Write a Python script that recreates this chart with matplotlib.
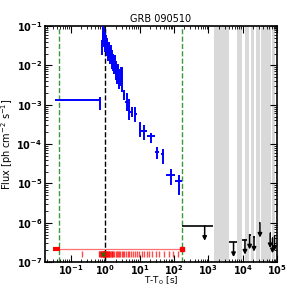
"""GRB 090510 light curve: LAT flux vs time since trigger."""

import numpy as np
import matplotlib
matplotlib.use("Agg")
import matplotlib.pyplot as plt
from matplotlib.ticker import FuncFormatter, FixedLocator, NullFormatter

# detected bins: time bin edges [s], flux and its error band [ph cm^-2 s^-1]
det_tlo = [0.035, 0.78, 0.82, 0.86, 0.90, 0.94, 0.98, 1.03, 1.08, 1.13, 1.19, 1.26,
           1.33, 1.42, 1.51, 1.61, 1.71, 1.83, 1.95, 2.08, 2.26, 2.48, 2.72, 2.98,
           3.3, 3.9, 4.6, 5.4, 7.0, 9.6, 11.4, 17.0, 28.0, 43.0, 60.0, 111.0]
det_thi = [0.70, 0.82, 0.86, 0.90, 0.94, 0.98, 1.03, 1.08, 1.13, 1.19, 1.26, 1.33,
           1.42, 1.51, 1.61, 1.71, 1.83, 1.95, 2.08, 2.26, 2.48, 2.72, 2.98, 3.3,
           3.9, 4.6, 5.4, 6.4, 8.2, 10.8, 16.6, 28.0, 37.0, 53.0, 109.0, 177.0]
det_t = [0.70, 0.80, 0.84, 0.88, 0.92, 0.96, 1.00, 1.05, 1.10, 1.16, 1.22, 1.29,
         1.37, 1.46, 1.55, 1.65, 1.76, 1.88, 2.00, 2.15, 2.35, 2.60, 2.85, 3.10,
         3.6, 4.3, 5.0, 5.9, 7.6, 10.2, 13.6, 22.0, 32.0, 48.0, 81.0, 141.0]
det_f = [1.3e-3, 0.030, 0.050, 0.070, 0.060, 0.045, 0.035, 0.040, 0.028, 0.032, 0.022, 0.025,
         0.018, 0.020, 0.014, 0.012, 0.010, 0.011, 7.5e-3, 6.0e-3, 6.5e-3, 4.5e-3, 5.5e-3, 4.5e-3,
         1.8e-3, 1.2e-3, 7.5e-4, 6.5e-4, 5.8e-4, 2.4e-4, 2.2e-4, 1.6e-4, 6.3e-5, 5.5e-5, 1.6e-5, 1.15e-5]
det_fhi = [1.6e-3, 0.045, 0.075, 0.11, 0.09, 0.07, 0.055, 0.06, 0.045, 0.05, 0.035, 0.04,
           0.03, 0.032, 0.024, 0.02, 0.017, 0.018, 0.013, 0.010, 0.011, 8.0e-3, 9.0e-3, 9.0e-3,
           2.4e-3, 2.0e-3, 1.4e-3, 8.7e-4, 8.9e-4, 3.6e-4, 3.0e-4, 1.9e-4, 8.5e-5, 7.4e-5, 2.3e-5, 1.6e-5]
det_flo = [7.2e-4, 0.018, 0.030, 0.045, 0.040, 0.028, 0.022, 0.025, 0.017, 0.020, 0.013, 0.015,
           0.011, 0.012, 8.0e-3, 7.0e-3, 6.0e-3, 6.5e-3, 4.2e-3, 3.3e-3, 3.5e-3, 2.5e-3, 3.0e-3, 2.1e-3,
           1.3e-3, 7.0e-4, 4.0e-4, 4.9e-4, 3.7e-4, 1.5e-4, 1.3e-4, 1.05e-4, 4.1e-5, 3.1e-5, 8.9e-6, 5.0e-6]

# upper limits: bin edges and flux limit
ul_tlo = [174.0, 4000.0, 9900.0, 15000.0, 20500.0, 31000.0, 62000.0, 72000.0, 83000.0]
ul_thi = [1400.0, 6900.0, 13500.0, 17000.0, 22500.0, 33000.0, 65000.0, 76000.0, 87000.0]
ul_f = [8.3e-7, 3.2e-7, 3.7e-7, 5.0e-7, 4.4e-7, 1.0e-6, 5.4e-7, 4.0e-7, 4.6e-7]

# gaps in exposure (shaded)
gap_lo = [1480.0, 6800.0, 11960.0, 17800.0, 24000.0, 34600.0, 69400.0]
gap_hi = [4000.0, 9800.0, 15100.0, 21700.0, 31300.0, 65000.0, 90500.0]

# photon arrival times for the rug at the bottom
rug_t = [0.21, 0.66, 0.70, 0.74, 0.78, 0.81, 0.84, 0.86, 0.88, 0.90, 0.92, 0.94, 0.96,
         0.98, 1.01, 1.04, 1.07, 1.1, 1.14, 1.18, 1.23, 1.28, 1.33, 1.4, 1.47, 1.55, 1.63,
         1.72, 1.85, 2.0, 2.15, 2.3, 2.5, 2.75, 3.0, 3.3, 3.6, 4.0, 4.5, 5.1, 5.8, 6.5,
         7.4, 8.5, 9.8, 11.5, 13.5, 16.0, 19.0, 23.0, 30.0, 38.0, 52.0, 70.0, 95.0, 130.0]

t_green = [0.045, 177.0]
t_black = 0.97
red_span = [0.0297, 193.0]
red_thick = [0.0297, 0.047]

x_lim = (0.0178, 1e5)
y_lim = (1e-7, 1e-1)


def fmt_pow(v, pos):
    return r"$\mathbf{10^{%d}}$" % int(round(np.log10(v)))


def log_ticks(lo, hi):
    e0, e1 = int(np.floor(np.log10(lo))), int(np.ceil(np.log10(hi)))
    major = [10.0 ** e for e in range(e0, e1 + 1) if lo * 0.999 <= 10.0 ** e <= hi * 1.001]
    minor = [m * 10.0 ** e for e in range(e0, e1) for m in range(2, 10) if lo <= m * 10.0 ** e <= hi]
    return major, minor


def main() -> None:
    fig = plt.figure(figsize=(2.87, 2.89), dpi=100)
    ax = fig.add_axes([0.157, 0.093, 0.808, 0.817])

    for lo, hi in zip(gap_lo, gap_hi):
        ax.axvspan(lo, hi, color="#d9d9d9", lw=0, zorder=0)

    for t in t_green:
        ax.axvline(t, color="#3a9a3a", ls="--", lw=1.0, zorder=1)
    ax.axvline(t_black, color="black", ls="--", lw=1.0, zorder=1)

    t = np.array(det_t)
    f = np.array(det_f)
    xerr = [t - np.array(det_tlo), np.array(det_thi) - t]
    yerr = [f - np.array(det_flo), np.array(det_fhi) - f]
    ax.errorbar(t, f, xerr=xerr, yerr=yerr, fmt="none", ecolor="blue", elinewidth=1.4, zorder=3)

    ul_mid = (np.array(ul_tlo) + np.array(ul_thi)) / 2
    ulf = np.array(ul_f)
    ax.hlines(ulf, ul_tlo, ul_thi, color="black", lw=1.2, zorder=3)
    for x, y in zip(ul_mid, ulf):
        ax.annotate("", xy=(x, y * 0.42), xytext=(x, y),
                    arrowprops=dict(arrowstyle="-|>", color="black", lw=1.1,
                                    mutation_scale=6, shrinkA=0, shrinkB=0), zorder=4)

    ax.hlines(2.1e-7, red_span[0], red_span[1], color="#ff7070", lw=0.9, zorder=2)
    ax.hlines(2.1e-7, red_thick[0], red_thick[1], color="red", lw=3, zorder=2)
    ax.plot([t_green[1]], [2.1e-7], "s", color="red", ms=3, zorder=3)
    ax.plot(rug_t, [1.6e-7] * len(rug_t), "|", color="red", ms=5, mew=1.0, alpha=0.7, zorder=2)
    ax.hlines(1.6e-7, 0.68, 1.0, color="red", lw=4, alpha=0.5, zorder=2)
    ax.plot([0.86], [1.6e-7], "x", color="green", ms=3, mew=0.8, zorder=3)

    ax.set_xscale("log")
    ax.set_yscale("log")
    ax.set_xlim(*x_lim)
    ax.set_ylim(*y_lim)
    for axis, lim in ((ax.xaxis, x_lim), (ax.yaxis, y_lim)):
        major, minor = log_ticks(*lim)
        axis.set_major_locator(FixedLocator(major))
        axis.set_minor_locator(FixedLocator(minor))
        axis.set_major_formatter(FuncFormatter(fmt_pow))
        axis.set_minor_formatter(NullFormatter())
    ax.tick_params(which="both", direction="in", top=True, right=True, labelsize=7)
    ax.tick_params(axis="x", pad=0.5)
    ax.tick_params(axis="y", pad=2)
    ax.tick_params(which="major", length=5, width=0.8)
    ax.tick_params(which="minor", length=2.5, width=0.6)
    for s in ax.spines.values():
        s.set_linewidth(1.2)

    ax.set_title("GRB 090510", fontsize=7, pad=3)
    ax.set_xlabel(r"T-T$_0$ [s]", fontsize=6.5)
    ax.xaxis.set_label_coords(0.5, -0.054)
    ax.set_ylabel(r"Flux [ph cm$^{-2}$ s$^{-1}$]", fontsize=7, labelpad=1)

    fig.savefig("out.png", dpi=100)
    plt.close(fig)


if __name__ == "__main__":
    main()
